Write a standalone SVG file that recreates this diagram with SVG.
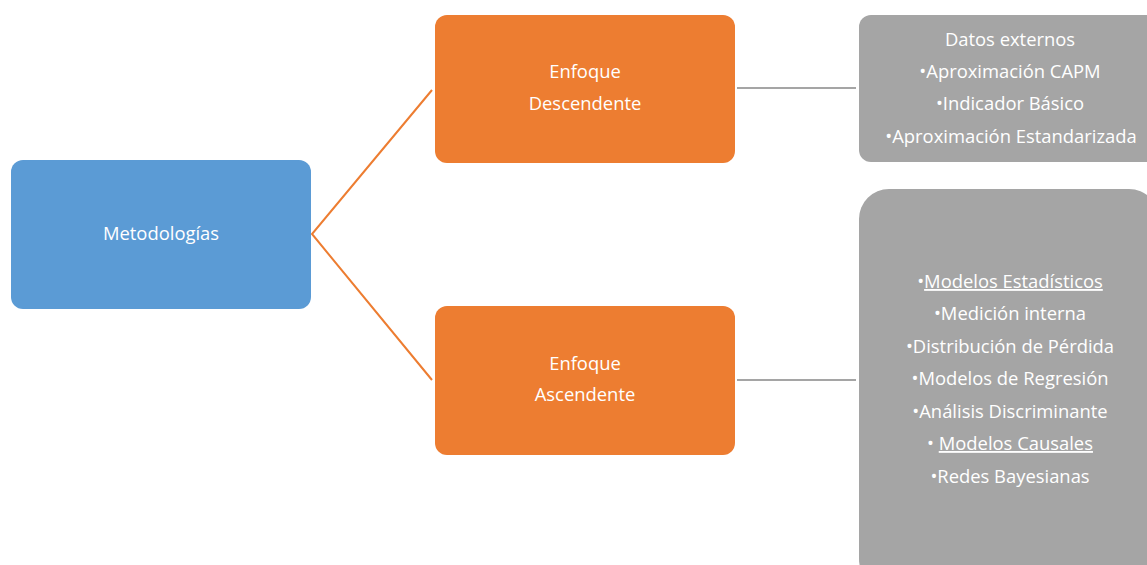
<svg xmlns="http://www.w3.org/2000/svg" width="1147" height="565" viewBox="0 0 1147 565">
<style>
text{font-family:"Open Sans","Liberation Sans",sans-serif;font-size:18.4px;fill:#ffffff;text-anchor:middle}
.u{text-decoration:underline}
.blue{fill:#5B9BD5}
.orange{fill:#ED7D31}
.gray{fill:#A5A5A5}
.co{stroke:#ED7D31;stroke-width:2;fill:none}
.cg{stroke:#A5A5A5;stroke-width:2;fill:none}
</style>
<rect width="1147" height="565" fill="#ffffff"/>
<g id="connectors">
<polyline class="co" points="432,90 312,234 432,380"/>
<line class="cg" x1="737" y1="88" x2="856" y2="88"/>
<line class="cg" x1="737" y1="380" x2="856" y2="380"/>
</g>
<g id="metodologias">
<rect class="blue" x="11" y="160" width="300" height="149" rx="12"/>
<text x="161" y="240">Metodologías</text>
</g>
<g id="descendente">
<rect class="orange" x="435" y="15" width="300" height="148" rx="12"/>
<text x="585" y="78">Enfoque</text>
<text x="585" y="110">Descendente</text>
</g>
<g id="ascendente">
<rect class="orange" x="435" y="306" width="300" height="149" rx="12"/>
<text x="585" y="370">Enfoque</text>
<text x="585" y="401">Ascendente</text>
</g>
<g id="externos">
<rect class="gray" x="859" y="15" width="300" height="147" rx="12"/>
<text x="1010" y="46">Datos externos</text>
<text x="1010" y="78">•Aproximación CAPM</text>
<text x="1010" y="110">•Indicador Básico</text>
<text x="1011" y="143">•Aproximación Estandarizada</text>
</g>
<g id="internos">
<rect class="gray" x="859" y="189" width="300" height="400" rx="30"/>
<text x="1010" y="288">•<tspan class="u">Modelos Estadísticos</tspan></text>
<text x="1010" y="320">•Medición interna</text>
<text x="1010" y="353">•Distribución de Pérdida</text>
<text x="1010" y="385">•Modelos de Regresión</text>
<text x="1010" y="418">•Análisis Discriminante</text>
<text x="1010" y="450">• <tspan class="u">Modelos Causales</tspan></text>
<text x="1010" y="483">•Redes Bayesianas</text>
</g>
</svg>
